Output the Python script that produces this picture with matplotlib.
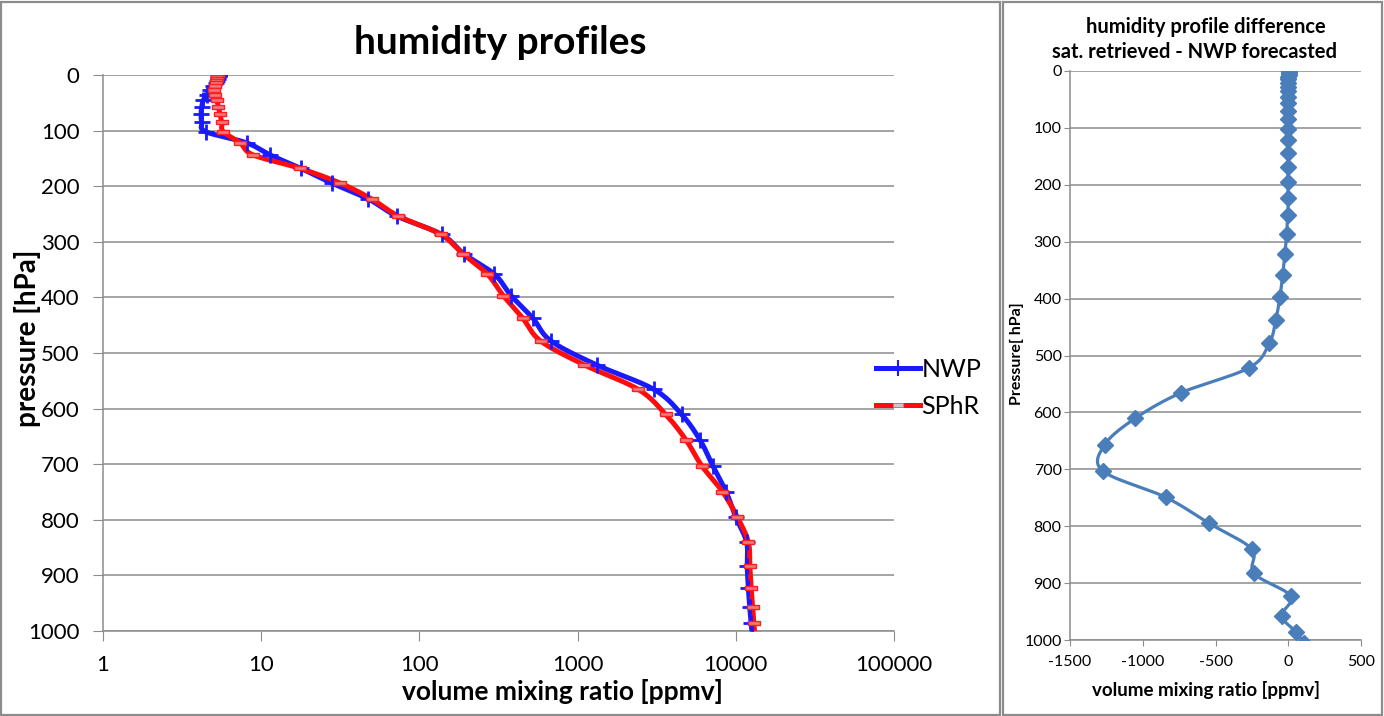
import numpy as np
import matplotlib
matplotlib.use('Agg')
import matplotlib.pyplot as plt
from matplotlib.patches import Rectangle

plt.rcParams['font.family'] = ['Lato', 'DejaVu Sans']
plt.rcParams['axes.unicode_minus'] = False

# pressure levels [hPa]
pressure = [0.10, 0.29, 0.69, 1.42, 2.61, 4.41, 6.95, 10.37, 14.81, 20.40,
            27.26, 35.51, 45.29, 56.73, 69.97, 85.18, 102.05, 122.04, 143.84,
            167.95, 194.36, 222.94, 253.71, 286.60, 321.50, 358.28, 396.81,
            436.95, 478.54, 521.46, 565.54, 610.60, 656.43, 702.73, 749.12,
            795.09, 839.95, 882.80, 922.46, 957.44, 985.88, 1005.43]

# NWP forecast [ppmv]
nwp = [5.45, 5.45, 5.42, 5.40, 5.38, 5.35, 5.32, 5.28, 5.15, 4.98,
       4.75, 4.52, 4.31, 4.21, 4.17, 4.21, 4.46, 8.1, 11.4,
       17.8, 27.9, 47.5, 71.9, 138, 191, 298, 380,
       520, 680, 1320, 3040, 4550, 5940, 7150, 8670,
       10000, 11700, 11800, 12000, 12250, 12500, 12700]

# satellite retrieval (SPhR) [ppmv]
sphr = [5.35, 5.32, 5.30, 5.28, 5.26, 5.24, 5.22, 5.20, 5.15, 5.10,
        5.05, 5.10, 5.24, 5.36, 5.49, 5.63, 5.76, 7.35, 8.9,
        17.6, 31.5, 49.9, 73.6, 136, 188, 269, 339,
        449, 585, 1103, 2420, 3606, 4845, 6090, 8220,
        10230, 12000, 12260, 12500, 12800, 13000, 13200]

# difference sat. retrieved - NWP [ppmv]
diff = [2, 2, 2, 2, 2, 2, 2, 1, 1, 1,
        1, 1, 1, 1, 1, 1, 1, -1, -3,
        -1, -4, 0, -4, -11, -23, -38, -57,
        -85, -130, -268, -737, -1053, -1260, -1276, -843,
        -543, -252, -236, 16, -45, 53, 110]

W, H = 1384, 716


def smooth(px, py, n=24):
    # Excel style smoothed line (bezier, control points = neighbour slope / 6)
    pts = np.column_stack([px, py])
    P = np.vstack([pts[0], pts, pts[-1]])
    t = np.linspace(0, 1, n, endpoint=False)[:, None]
    out = []
    for i in range(1, len(P) - 2):
        p0, p1, p2, p3 = P[i - 1], P[i], P[i + 1], P[i + 2]
        c1 = p1 + (p2 - p0) / 6
        c2 = p2 - (p3 - p1) / 6
        out.append((1 - t)**3 * p1 + 3 * (1 - t)**2 * t * c1 + 3 * (1 - t) * t**2 * c2 + t**3 * p2)
    out.append(pts[-1:])
    out = np.vstack(out)
    return out[:, 0], out[:, 1]


def axes_px(x0, y0, x1, y1):
    return [x0 / W, 1 - y1 / H, (x1 - x0) / W, (y1 - y0) / H]


def style_axes(ax, ticklen, pad_y, pad_x, size):
    ax.grid(axis='y', color='#8c8c8c', lw=1.1)
    ax.set_axisbelow(True)
    for s in ['top', 'right']:
        ax.spines[s].set_visible(False)
    for s in ['left', 'bottom']:
        ax.spines[s].set_color('#8c8c8c')
        ax.spines[s].set_linewidth(1.1)
    ax.tick_params(axis='y', direction='out', length=ticklen, color='#8c8c8c', pad=pad_y, labelsize=size)
    ax.tick_params(axis='x', direction='out', length=ticklen, color='#8c8c8c', pad=pad_x, labelsize=size)


fig = plt.figure(figsize=(W / 100, H / 100), dpi=100)

# chart area borders
fig.add_artist(Rectangle((1.5 / W, 1.5 / H), 998 / W, 713 / H, transform=fig.transFigure,
                         fill=False, ec='#8c8c8c', lw=1.6))
fig.add_artist(Rectangle((1003 / W, 1.5 / H), 379 / W, 713 / H, transform=fig.transFigure,
                         fill=False, ec='#8c8c8c', lw=1.6))

# ---- left: humidity profiles
ax1 = fig.add_axes(axes_px(103, 75, 894, 631))
ax1.set_xscale('log')
ax1.set_xlim(1, 100000)
ax1.set_ylim(1000, 0)
ax1.set_yticks(range(0, 1001, 100))
ax1.set_xticks([1, 10, 100, 1000, 10000, 100000])
ax1.set_xticklabels(['1', '10', '100', '1000', '10000', '100000'])
ax1.minorticks_off()
style_axes(ax1, 7, 10, 10, 16)

sx, sy = 158.2, 0.556
for vals, col in [(nwp, '#1a1aff'), (sphr, '#ff0d0d')]:
    lx, ly = smooth(np.log10(vals) * sx, np.array(pressure) * sy)
    ax1.plot(10 ** (lx / sx), ly / sy, color=col, lw=3.6, zorder=3, solid_capstyle='butt')

ax1.plot(nwp, pressure, ls='none', marker='+', ms=11, mew=2, color='#1a1aff', zorder=4)
rect = [(-1, -0.32), (1, -0.32), (1, 0.32), (-1, 0.32), (-1, -0.32)]
ax1.plot(sphr, pressure, ls='none', marker=rect, ms=8, mew=1.0, mfc='#f07a7a', mec='#ff2020', zorder=5)

h1, = ax1.plot([], [], color='#1a1aff', lw=3.6, marker='+', ms=11, mew=1.5)
h2, = ax1.plot([], [], color='#ff0d0d', lw=3.6, marker=rect, ms=7, mew=0.6, mfc='#c8c8c8', mec='#ff6060')
ax1.legend([h1, h2], ['NWP', 'SPhR'], loc='center left', bbox_to_anchor=(0.977, 0.437),
           frameon=False, fontsize=18, handlelength=1.75, handletextpad=0.08,
           labelspacing=0.55, borderpad=0, borderaxespad=0)

fig.text(500 / W, 1 - 42 / H, 'humidity profiles', ha='center', va='center',
         fontsize=28, fontweight='bold')
fig.text(562 / W, 1 - 692 / H, 'volume mixing ratio [ppmv]', ha='center', va='center',
         fontsize=19, fontweight='bold')
fig.text(28 / W, 1 - 338 / H, 'pressure [hPa]', ha='center', va='center', rotation=90,
         fontsize=20, fontweight='bold')

# ---- right: difference
ax2 = fig.add_axes(axes_px(1070, 71, 1361, 640))
ax2.set_xlim(-1500, 500)
ax2.set_ylim(1000, 0)
ax2.set_yticks(range(0, 1001, 100))
ax2.set_xticks(range(-1500, 501, 500))
style_axes(ax2, 4, 2, 7, 11.5)

rx, ry = 0.1455, 0.569
lx, ly = smooth(np.array(diff) * rx, np.array(pressure) * ry)
ax2.plot(lx / rx, ly / ry, color='#4a7ebb', lw=2.3, zorder=3)
ax2.plot(diff, pressure, ls='none', marker='D', ms=8, color='#4a7ebb', mec='#4a7ebb', zorder=4)

fig.text(1206 / W, 1 - 27 / H, 'humidity profile difference', ha='center', va='center',
         fontsize=14.5, fontweight='bold')
fig.text(1195 / W, 1 - 52 / H, 'sat. retrieved - NWP forecasted', ha='center', va='center',
         fontsize=14.5, fontweight='bold')
fig.text(1206 / W, 1 - 690 / H, 'volume mixing ratio [ppmv]', ha='center', va='center',
         fontsize=13.5, fontweight='bold')
fig.text(1017 / W, 1 - 354 / H, 'Pressure[ hPa]', ha='center', va='center', rotation=90,
         fontsize=11.5, fontweight='bold')

fig.savefig('out.png', dpi=100)
